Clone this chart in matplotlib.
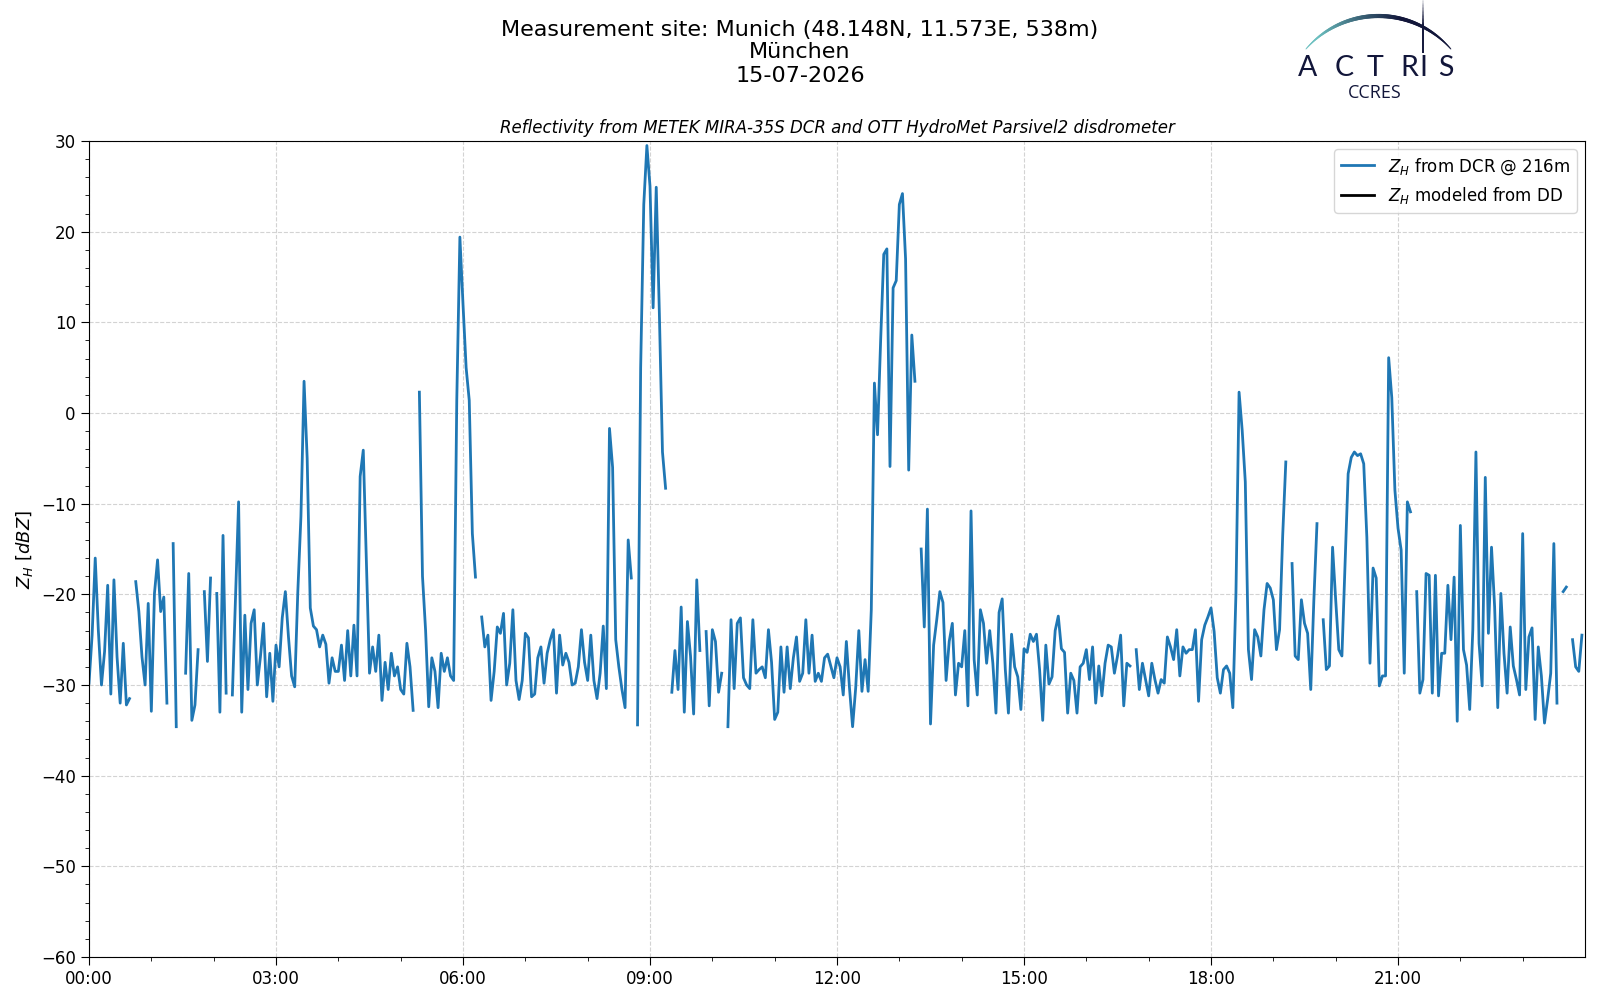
import numpy as np
import pandas as pd
import matplotlib
matplotlib.use("Agg")
from matplotlib import pyplot as plt
import matplotlib.dates as mdates
from matplotlib.ticker import MultipleLocator
from matplotlib.collections import LineCollection
from matplotlib.colors import to_rgb

nan = np.nan

# radar reflectivity at 216 m, one value every 3 minutes, one list per hour (dBZ)
zh_h00 = [-29.8, -24.5, -16.0, -24.0, -30.0, -26.3, -19.0, -31.0, -18.4, -26.9, -32.0, -25.4, -32.2, -31.5, nan, -18.6, -21.9, -26.9, -30.0, -21.0]
zh_h01 = [-32.9, -19.9, -16.2, -21.9, -20.3, -32.0, nan, -14.4, -34.6, nan, nan, -28.7, -17.7, -33.9, -32.2, -26.1, nan, -19.7, -27.4, -18.2]
zh_h02 = [nan, -19.9, -33.0, -13.5, -30.9, nan, -31.1, -20.6, -9.8, -33.0, -22.3, -30.5, -23.2, -21.7, -30.0, -26.9, -23.2, -31.3, -26.5, -31.8]
zh_h03 = [-25.6, -28.0, -22.6, -19.7, -24.7, -29.0, -30.2, -19.7, -11.4, 3.5, -5.0, -21.5, -23.5, -23.9, -25.8, -24.5, -25.5, -29.8, -27.0, -28.5]
zh_h04 = [-28.5, -25.6, -29.5, -24.0, -29.0, -23.4, -29.0, -7.0, -4.1, -16.2, -28.7, -25.8, -28.5, -24.5, -31.7, -27.5, -30.5, -26.5, -29.0, -28.0]
zh_h05 = [-30.5, -31.0, -25.4, -28.0, -32.8, nan, 2.3, -18.0, -24.0, -32.4, -27.0, -28.5, -32.5, -26.5, -28.5, -27.0, -29.0, -29.5, 1.4, 19.4]
zh_h06 = [12.0, 5.0, 1.4, -13.3, -18.1, nan, -22.5, -25.8, -24.5, -31.7, -28.5, -23.6, -24.3, -22.1, -30.0, -27.6, -21.7, -29.5, -31.6, -29.5]
zh_h07 = [-24.3, -24.8, -31.3, -31.0, -27.0, -25.8, -29.8, -26.5, -25.0, -23.9, -30.9, -24.5, -27.8, -26.5, -27.5, -30.0, -29.8, -28.0, -23.9, -27.5]
zh_h08 = [-29.5, -24.5, -29.5, -31.5, -28.7, -23.5, -30.4, -1.7, -6.0, -25.0, -28.0, -30.5, -32.5, -14.0, -18.2, nan, -34.4, 5.0, 23.0, 29.5]
zh_h09 = [25.0, 11.6, 24.9, 11.0, -4.3, -8.3, nan, -30.8, -26.2, -30.5, -21.4, -33.0, -23.0, -26.8, -33.2, -18.4, -26.2, nan, -24.1, -32.3]
zh_h10 = [-23.9, -25.2, -30.8, -28.7, nan, -34.6, -22.8, -30.4, -23.2, -22.6, -29.2, -30.0, -30.4, -22.8, -28.7, -28.3, -28.0, -29.2, -23.9, -27.5]
zh_h11 = [-33.8, -33.0, -25.8, -30.8, -25.8, -30.4, -27.0, -24.7, -29.6, -28.7, -22.8, -28.7, -24.5, -29.6, -28.7, -29.6, -27.0, -26.6, -27.9, -29.2]
zh_h12 = [-27.0, -28.0, -31.1, -25.2, -30.3, -34.6, -30.3, -24.0, -30.7, -27.2, -30.7, -21.7, 3.3, -2.4, 8.0, 17.5, 18.1, -5.9, 13.8, 14.6]
zh_h13 = [23.0, 24.2, 17.0, -6.3, 8.6, 3.5, nan, -15.0, -23.6, -10.6, -34.3, -25.6, -22.8, -19.7, -20.9, -29.5, -25.2, -23.2, -31.1, -27.6]
zh_h14 = [-28.0, -24.0, -32.3, -10.8, -27.2, -31.1, -21.7, -23.2, -27.6, -24.0, -27.6, -33.1, -22.0, -20.5, -28.3, -33.1, -24.4, -28.0, -29.1, -32.7]
zh_h15 = [-26.0, -26.4, -24.4, -25.2, -24.4, -28.3, -33.9, -25.6, -29.9, -29.1, -24.0, -22.4, -26.0, -26.4, -33.1, -28.7, -29.5, -33.1, -28.0, -27.6]
zh_h16 = [-26.1, -29.4, -25.8, -32.0, -27.9, -31.2, -27.6, -25.6, -25.8, -28.7, -26.8, -24.5, -32.3, -27.6, -27.9, nan, -26.1, -30.5, -27.6, -29.4]
zh_h17 = [-31.2, -27.6, -29.4, -30.9, -29.4, -29.8, -24.7, -25.8, -27.2, -23.9, -29.0, -25.8, -26.5, -26.1, -26.1, -23.9, -31.8, -25.0, -23.4, -22.5]
zh_h18 = [-21.5, -24.1, -29.2, -30.9, -28.3, -27.9, -28.7, -32.5, -19.9, 2.3, -1.9, -7.6, -26.1, -29.4, -23.9, -24.7, -26.8, -21.7, -18.8, -19.3]
zh_h19 = [-20.6, -26.1, -23.9, -13.5, -5.4, nan, -16.6, -26.8, -27.2, -20.6, -23.2, -24.3, -30.5, -20.6, -12.2, nan, -22.8, -28.3, -27.9, -14.8]
zh_h20 = [-20.6, -26.1, -26.8, -16.6, -6.7, -4.9, -4.3, -4.7, -4.5, -5.6, -13.7, -27.6, -17.1, -18.2, -30.1, -29.0, -29.0, 6.1, 1.7, -8.5]
zh_h21 = [-12.7, -15.1, -28.7, -9.8, -10.9, nan, -19.7, -30.9, -29.4, -17.7, -17.9, -30.9, -17.9, -31.2, -26.5, -26.5, -19.0, -25.0, -18.1, -34.0]
zh_h22 = [-12.4, -26.1, -27.8, -32.7, -23.9, -4.3, -25.4, -30.1, -7.1, -24.3, -14.8, -21.4, -32.5, -19.9, -26.5, -30.9, -23.6, -27.9, -29.4, -31.1]
zh_h23 = [-13.3, -30.5, -24.7, -23.7, -33.8, -25.8, -29.0, -34.2, -31.6, -28.7, -14.4, -32.0, nan, -19.7, -19.2, nan, -25.0, -28.0, -28.5, -24.5]

# disdrometer modeled reflectivity: no data on this day
zh_dd = []

site = "Measurement site: Munich (48.148N, 11.573E, 538m)"
site_name = "München"
day = "15-07-2026"
step_min = 3

zh_dcr = np.array(zh_h00 + zh_h01 + zh_h02 + zh_h03 + zh_h04 + zh_h05 + zh_h06 + zh_h07
                  + zh_h08 + zh_h09 + zh_h10 + zh_h11 + zh_h12 + zh_h13 + zh_h14 + zh_h15
                  + zh_h16 + zh_h17 + zh_h18 + zh_h19 + zh_h20 + zh_h21 + zh_h22 + zh_h23)
t0 = pd.Timestamp("2026-07-15")
times = t0 + pd.to_timedelta(np.arange(len(zh_dcr)) * step_min, unit="min")

fig = plt.figure(figsize=(16, 10), dpi=100)
ax = fig.add_axes([89/1600, 1 - 957/1000, (1585 - 89)/1600, (957 - 141)/1000])

ax.plot(times, zh_dcr, color="#1f77b4", linewidth=2.0, label="$Z_H$ from DCR @ 216m")
ax.plot(times[:len(zh_dd)], zh_dd, color="black", linewidth=2.0, label="$Z_H$ modeled from DD")

ax.set_xlim(t0, t0 + pd.Timedelta(hours=24) - pd.Timedelta(seconds=1))
ax.set_ylim(-60, 30)
ax.xaxis.set_major_locator(mdates.HourLocator(byhour=range(0, 24, 3)))
ax.xaxis.set_minor_locator(mdates.HourLocator())
ax.xaxis.set_major_formatter(mdates.DateFormatter("%H:%M"))
ax.yaxis.set_major_locator(MultipleLocator(10))
ax.yaxis.set_minor_locator(MultipleLocator(2))
ax.tick_params(which="major", labelsize=12, length=6)
ax.tick_params(which="minor", length=3)
ax.grid(True, which="major", linestyle="--", color="#d3d3d3", linewidth=0.8)

ax.set_ylabel("$Z_H$ [$dBZ$]", fontsize=13)
ax.set_title("Reflectivity from METEK MIRA-35S DCR and OTT HydroMet Parsivel2 disdrometer",
             fontsize=12, style="italic")
ax.legend(loc="upper right", fontsize=12)

fig.text(0.5, 1 - 35.7/1000, site, ha="center", va="baseline", fontsize=16)
fig.text(0.5, 1 - 58.2/1000, site_name, ha="center", va="baseline", fontsize=16)
fig.text(0.5, 1 - 81.6/1000, day, ha="center", va="baseline", fontsize=16)

# ACTRIS CCRES logo, drawn in pixel units
lg = fig.add_axes([1260/1600, 1 - 110/1000, 210/1600, 110/1000])
lg.set_xlim(1260, 1470)
lg.set_ylim(110, 0)
lg.axis("off")

navy = np.array(to_rgb("#12163a"))
teal = np.array(to_rgb("#6cc0c0"))
th = np.radians(np.linspace(139, 41, 120))
arc_x = 1378.4 + 96 * np.cos(th)
arc_y = 112 - 96 * np.sin(th)
pts = np.column_stack([arc_x, arc_y]).reshape(-1, 1, 2)
segs = np.concatenate([pts[:-1], pts[1:]], axis=1)
frac = np.linspace(0, 1, len(segs))
mix = np.clip((frac - 0.1) / 0.55, 0, 1)[:, None]
cols = teal * (1 - mix) + navy * mix
widths = 0.6 + 2.4 * (np.sin(th[:-1]) - np.sin(np.radians(41))) / (1 - np.sin(np.radians(41)))
lg.add_collection(LineCollection(segs, colors=cols, linewidths=widths, capstyle="round"))

vy = np.linspace(0, 53, 40)
vpts = np.column_stack([np.full_like(vy, 1423.3), vy]).reshape(-1, 1, 2)
vsegs = np.concatenate([vpts[:-1], vpts[1:]], axis=1)
valpha = np.clip(np.linspace(0.1, 2.0, len(vsegs)), 0, 1)
vcols = [(navy[0], navy[1], navy[2], a) for a in valpha]
lg.add_collection(LineCollection(vsegs, colors=vcols, linewidths=1.4))

for letter, lx in zip("ACTRIS", [1307.5, 1344, 1375.3, 1409, 1423.3, 1445.7]):
    lg.text(lx, 76, letter, ha="center", va="baseline", fontsize=20.5,
            color="#12163a", family="Lato", fontweight="normal")
lg.text(1374.5, 98.3, "CCRES", ha="center", va="baseline", fontsize=13,
        color="#12163a", family="Open Sans")

fig.savefig("out.png", dpi=100)
